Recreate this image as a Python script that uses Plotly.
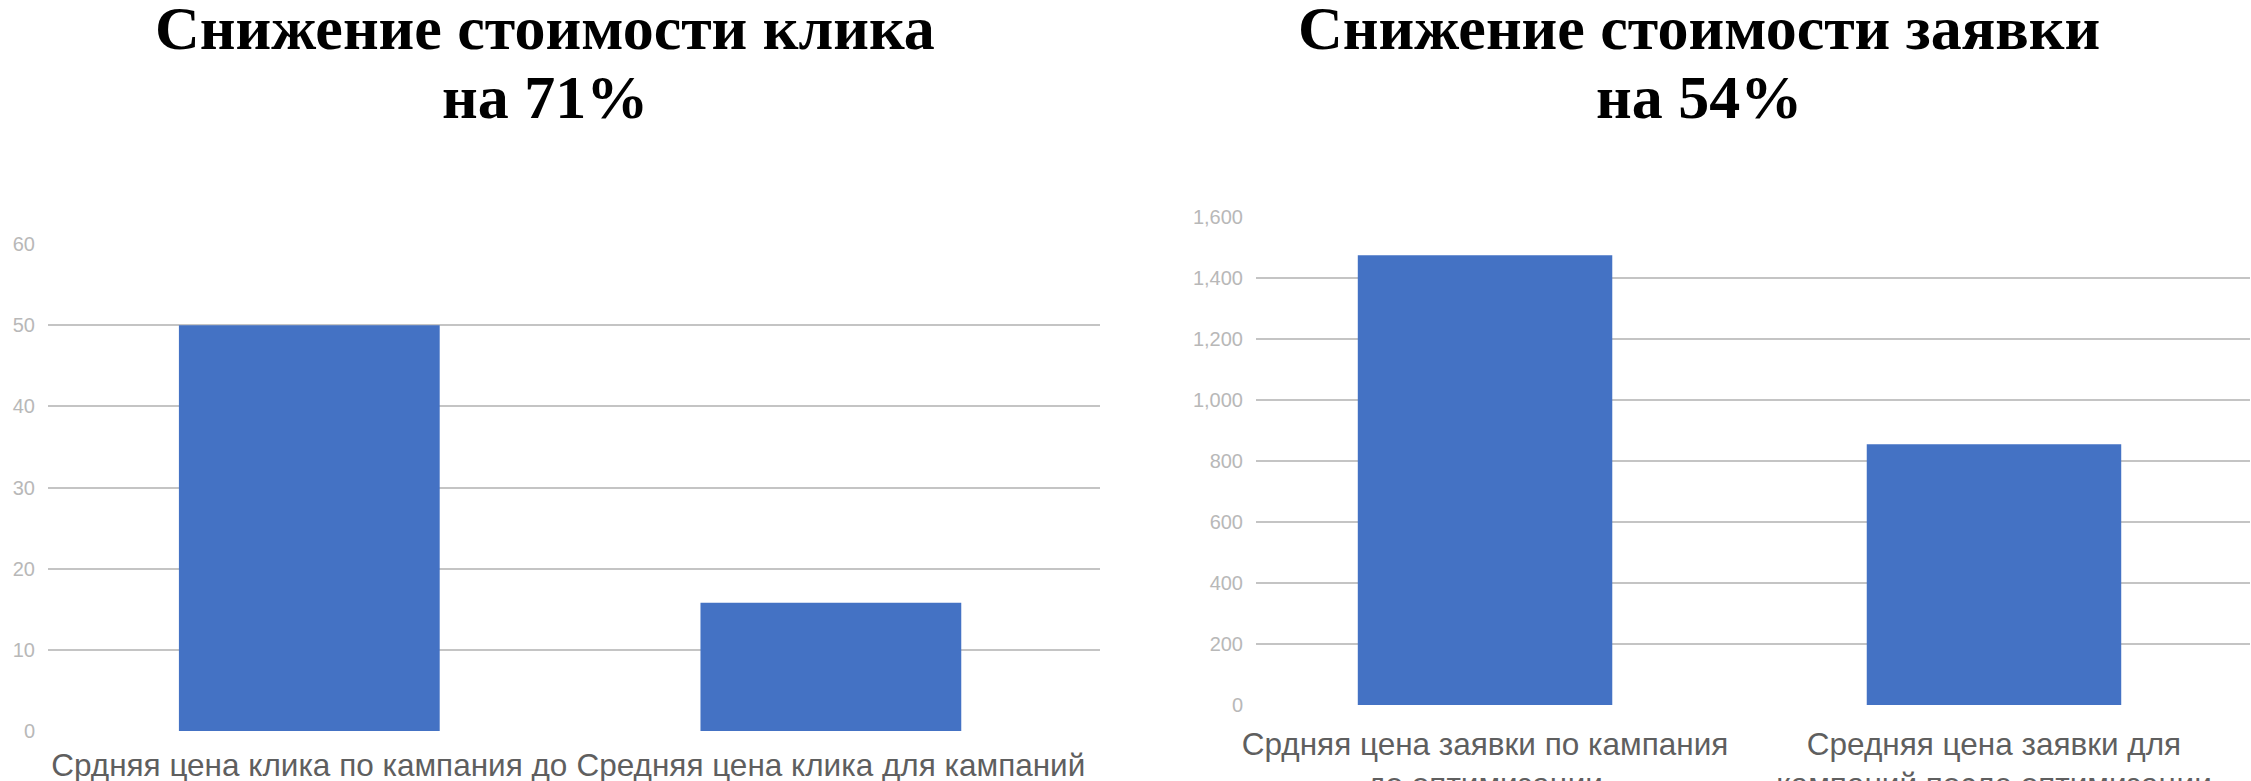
import plotly.graph_objects as go

# ---- data ----
click_categories = [
    "Срдняя цена клика по кампания до<br>оптимизации",
    "Средняя цена клика для кампаний<br>после оптимизации",
]
click_values = [50, 15.8]
click_ticks = [0, 10, 20, 30, 40, 50, 60]

lead_categories = [
    "Срдняя цена заявки по кампания<br>до оптимизации",
    "Средняя цена заявки для<br>кампаний после оптимизации",
]
lead_values = [1475, 855]
lead_ticks = [0, 200, 400, 600, 800, 1000, 1200, 1400, 1600]

title_left = ["Снижение стоимости клика", "на 71%"]
title_right = ["Снижение стоимости заявки", "на 54%"]

W, H = 2251, 781
BAR = "#4472C4"
GRID = "#c4c4c4"
TICKC = "#b8b8b8"
LABC = "#5f5f5f"

def px(x):
    return x / W

def py(y):
    return 1 - y / H

fig = go.Figure()
fig.add_trace(go.Bar(x=click_categories, y=click_values, marker_color=BAR,
                     width=0.5, xaxis="x", yaxis="y", showlegend=False,
                     marker_line_width=0))
fig.add_trace(go.Bar(x=lead_categories, y=lead_values, marker_color=BAR,
                     width=0.5, xaxis="x2", yaxis="y2", showlegend=False,
                     marker_line_width=0))

axis_common = dict(showline=False, ticks="", zeroline=False, automargin=False)

fig.update_layout(
    width=W, height=H, autosize=False,
    margin=dict(l=0, r=0, t=0, b=0, pad=0),
    paper_bgcolor="white", plot_bgcolor="white",
    font=dict(family="Liberation Sans, Arial, sans-serif", color=LABC),
    xaxis=dict(domain=[px(48), px(1100)], anchor="y", type="category",
               range=[-0.501, 1.516], showgrid=False,
               tickfont=dict(size=31.5, color=LABC), ticklabelstandoff=12,
               **axis_common),
    yaxis=dict(domain=[py(731), py(244)], anchor="x", range=[0, 60],
               tickvals=click_ticks, showgrid=True, gridcolor=GRID,
               gridwidth=2, tickfont=dict(size=20, color=TICKC),
               ticklabelstandoff=12, **axis_common),
    xaxis2=dict(domain=[px(1256), px(2250)], anchor="y2", type="category",
                range=[-0.45, 1.503], showgrid=False,
                tickfont=dict(size=31.5, color=LABC), ticklabelstandoff=17,
                **axis_common),
    yaxis2=dict(domain=[py(705), py(217)], anchor="x2", range=[0, 1600],
                tickvals=lead_ticks, tickformat=",", showgrid=True,
                gridcolor=GRID, gridwidth=2,
                tickfont=dict(size=20, color=TICKC),
                ticklabelstandoff=12, **axis_common),
    bargap=0.5,
)

# titles
for lines, cx in ((title_left, 545), (title_right, 1699)):
    for line, cy in zip(lines, (28, 97)):
        fig.add_annotation(x=px(cx), y=py(cy), xref="paper", yref="paper",
                           text="<b>" + line + "</b>", showarrow=False,
                           xanchor="center", yanchor="middle",
                           font=dict(family="Liberation Serif, Times New Roman, serif",
                                     size=62, color="black"))

fig.write_html("out.html")
